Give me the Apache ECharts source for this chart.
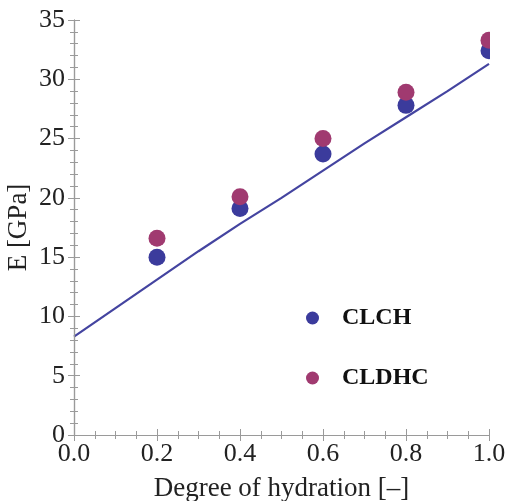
<!DOCTYPE html>
<html>
<head>
<meta charset="utf-8">
<script src="https://cdn.jsdelivr.net/npm/echarts@6/dist/echarts.min.js"></script>
<style>html,body{margin:0;padding:0;background:#fff}#c{width:509px;height:501px}</style>
</head>
<body>
<div id="c"></div>
<script>
// Data
var hydration = [0.2, 0.4, 0.6, 0.8, 1.0];
var clch = [15.0, 19.1, 23.7, 27.8, 32.4];
var cldhc = [16.6, 20.1, 25.0, 28.9, 33.3];
var modelX = [0.0, 0.1, 0.2, 0.3, 0.4, 0.5, 0.6, 0.7, 0.8, 0.9, 1.0];
var modelY = [8.3, 10.7, 13.1, 15.5, 17.8, 20.0, 22.3, 24.6, 26.8, 29.0, 31.3];

function pairs(xs, ys) { return xs.map(function (x, i) { return [x, ys[i]]; }); }

var FONT = '"Liberation Serif", "DejaVu Serif", serif';
var AX = '#9a9a9a';
var BLUE = '#3b3b9c';
var MAG = '#a03a70';

var chart = echarts.init(document.getElementById('c'), null, {renderer: 'canvas'});
chart.setOption({
  animation: false,
  backgroundColor: '#fff',
  grid: {left: 74, top: 20, right: 20, bottom: 66, containLabel: false, outerBoundsMode: 'none'},
  legend: {
    orient: 'vertical',
    left: 306,
    top: 306,
    padding: 0,
    itemWidth: 13,
    itemHeight: 13,
    itemGap: 36,
    icon: 'circle',
    textStyle: {fontFamily: FONT, fontWeight: 'bold', fontSize: 24, color: '#111', lineHeight: 24, padding: [0, 0, 0, 18]},
    data: ['CLCH', 'CLDHC']
  },
  graphic: [{
    type: 'rect', z: 50, silent: true,
    shape: {x: 490, y: 0, width: 19, height: 434},
    style: {fill: '#fff'}
  }],
  xAxis: [{
    type: 'value', min: 0, max: 1, interval: 0.2, position: 'bottom',
    name: 'Degree of hydration [\u2013]', nameLocation: 'middle', nameGap: 40,
    nameTextStyle: {fontFamily: FONT, fontSize: 27, color: '#222'},
    axisLine: {show: true, lineStyle: {color: AX, width: 1.2}},
    axisTick: {show: true, inside: true, length: 6, lineStyle: {color: AX}},
    minorTick: {show: true, splitNumber: 4, length: 4, lineStyle: {color: AX}},
    splitLine: {show: false},
    axisLabel: {fontFamily: FONT, fontSize: 26, color: '#222', margin: 6, formatter: function (v) { return v.toFixed(1); }}
  }, {
    type: 'value', min: 0, max: 1, interval: 0.2, position: 'top',
    axisLine: {show: true, lineStyle: {color: AX, width: 1.2}},
    axisTick: {show: true, inside: true, length: 6, lineStyle: {color: AX}},
    minorTick: {show: true, splitNumber: 4, length: 4, lineStyle: {color: AX}},
    splitLine: {show: false}, axisLabel: {show: false}
  }],
  yAxis: [{
    type: 'value', min: 0, max: 35, interval: 5, position: 'left',
    name: 'E [GPa]', nameLocation: 'middle', nameGap: 42, nameMoveOverlap: false,
    nameTextStyle: {fontFamily: FONT, fontSize: 27, color: '#222'},
    axisLine: {show: true, lineStyle: {color: AX, width: 1.2}},
    axisTick: {show: true, inside: true, length: 6, lineStyle: {color: AX}},
    minorTick: {show: true, splitNumber: 5, length: 4, lineStyle: {color: AX}},
    splitLine: {show: false},
    axisLabel: {fontFamily: FONT, fontSize: 26, color: '#222', margin: 9}
  }, {
    type: 'value', min: 0, max: 35, interval: 5, position: 'right', z: 60,
    axisLine: {show: true, lineStyle: {color: AX, width: 1.2}},
    axisTick: {show: true, inside: true, length: 6, lineStyle: {color: AX}},
    minorTick: {show: true, splitNumber: 5, length: 4, lineStyle: {color: AX}},
    splitLine: {show: false}, axisLabel: {show: false}
  }],
  series: [{
    name: 'model', type: 'line', xAxisIndex: 0, yAxisIndex: 0,
    data: pairs(modelX, modelY), showSymbol: false, symbol: 'none',
    lineStyle: {color: '#4444a0', width: 2.2}, z: 2
  }, {
    name: 'CLCH', type: 'scatter', xAxisIndex: 0, yAxisIndex: 0,
    data: pairs(hydration, clch), symbolSize: 17, clip: true,
    itemStyle: {color: BLUE, opacity: 1}, z: 3
  }, {
    name: 'CLDHC', type: 'scatter', xAxisIndex: 0, yAxisIndex: 0,
    data: pairs(hydration, cldhc), symbolSize: 17, clip: true,
    itemStyle: {color: MAG, opacity: 1}, z: 3
  }]
});
</script>
</body>
</html>
